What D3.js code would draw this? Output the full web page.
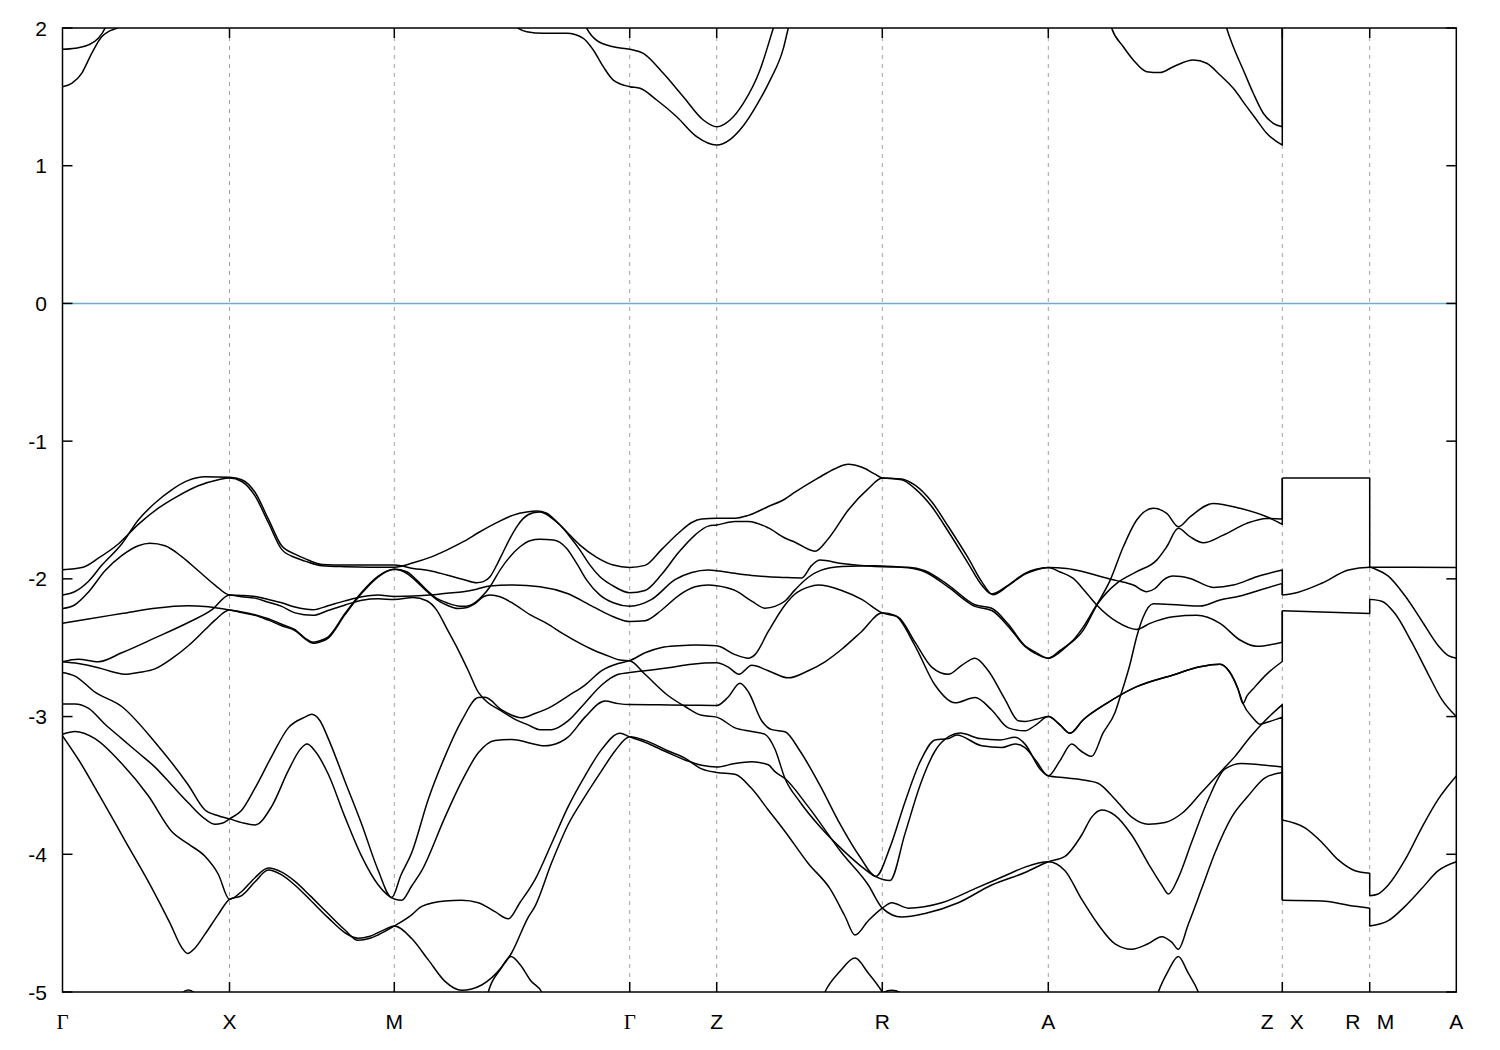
<!DOCTYPE html>
<html><head><meta charset="utf-8">
<script src="https://cdn.jsdelivr.net/npm/d3@7"></script>
<style>body{margin:0;background:#fff} svg{display:block}</style>
</head><body>
<svg id="chart" width="1500" height="1050"></svg>
<script>
// ---------- axis data ----------
const kPoints = [0, 1.670, 3.318, 5.672, 6.542, 8.198, 9.858, 12.198, 13.072, 13.938];
const kLabels = ["Γ","X","M","Γ","Z","R","A","Z X","R M","A"];
const yTicks = [2, 1, 0, -1, -2, -3, -4, -5];
const fermiLevel = 0;
const kBreakZX = 12.198;

// ---------- bands on Γ-X-M-Γ-Z-R-A-Z  ([k, E]) ----------
const bandA = [[0,-2.117],[0.125,-2.092],[0.258,-2.019],[0.392,-1.902],[0.592,-1.747],[0.758,-1.573],[0.925,-1.449],[1.092,-1.353],[1.258,-1.285],[1.425,-1.259],[1.670,-1.262],
[1.792,-1.280],[1.925,-1.371],[2.058,-1.565],[2.192,-1.760],[2.325,-1.82],[2.425,-1.853],[2.595,-1.895],[2.825,-1.90],[3.075,-1.90],[3.318,-1.90],
[3.508,-1.924],[3.675,-1.941],[3.842,-1.972],[4.008,-2.004],[4.142,-2.028],[4.208,-2.02],[4.275,-1.985],[4.342,-1.900],[4.408,-1.803],[4.475,-1.706],[4.542,-1.622],[4.608,-1.561],[4.708,-1.52],[4.775,-1.515],[4.875,-1.549],[4.975,-1.609],[5.075,-1.694],[5.175,-1.791],[5.275,-1.900],[5.375,-1.985],[5.508,-2.052],[5.672,-2.101],
[5.825,-2.084],[5.992,-1.967],[6.158,-1.811],[6.325,-1.682],[6.458,-1.617],[6.542,-1.609],
[6.725,-1.583],[6.858,-1.583],[7.058,-1.630],[7.225,-1.703],[7.325,-1.734],[7.525,-1.799],[7.658,-1.708],[7.858,-1.500],[8.058,-1.345],[8.198,-1.267],
[8.392,-1.280],[8.525,-1.345],[8.692,-1.475],[8.858,-1.656],[9.058,-1.889],[9.192,-2.045],[9.292,-2.110],[9.458,-2.045],[9.625,-1.96],[9.735,-1.93],[9.858,-1.917],
[10.042,-1.924],[10.208,-1.948],[10.408,-1.989],[10.542,-2.013],[10.708,-2.045],[10.842,-2.093],[10.925,-2.07],[11.008,-2.009],[11.108,-1.980],[11.275,-1.997],[11.508,-2.062],[11.708,-2.045],[11.942,-1.985],[12.198,-1.936]];
const bandB = [[0,-1.933],[0.205,-1.915],[0.358,-1.850],[0.558,-1.747],[0.758,-1.604],[0.958,-1.487],[1.158,-1.397],[1.358,-1.324],[1.558,-1.280],[1.670,-1.267],
[1.792,-1.293],[1.925,-1.397],[2.058,-1.591],[2.192,-1.786],[2.325,-1.845],[2.425,-1.871],[2.595,-1.905],[2.825,-1.912],[3.075,-1.915],[3.318,-1.915],
[3.508,-1.883],[3.675,-1.844],[3.842,-1.791],[4.008,-1.730],[4.175,-1.658],[4.342,-1.592],[4.508,-1.537],[4.642,-1.515],[4.742,-1.508],[4.842,-1.524],[4.942,-1.585],[5.042,-1.658],[5.175,-1.755],[5.342,-1.844],[5.508,-1.900],[5.672,-1.917],
[5.825,-1.902],[5.992,-1.786],[6.158,-1.669],[6.292,-1.591],[6.392,-1.565],[6.542,-1.560],
[6.725,-1.560],[6.858,-1.539],[7.058,-1.475],[7.225,-1.42],[7.325,-1.371],[7.558,-1.267],[7.725,-1.20],[7.858,-1.168],[7.995,-1.19],[8.125,-1.24],[8.198,-1.267],
[8.392,-1.275],[8.525,-1.32],[8.692,-1.44],[8.858,-1.62],[9.058,-1.85],[9.192,-2.02],[9.305,-2.115],[9.458,-2.05],[9.625,-1.965],[9.735,-1.935],[9.858,-1.917],
[9.975,-1.95],[10.108,-1.997],[10.225,-2.09],[10.342,-2.19],[10.542,-2.311],[10.742,-2.367],[10.875,-2.323],[11.108,-2.275],[11.342,-2.265],[11.575,-2.323],[11.775,-2.444],[11.942,-2.49],[12.198,-2.46]];
const bandC = [[0,-2.216],[0.125,-2.188],[0.258,-2.097],[0.425,-1.941],[0.592,-1.832],[0.758,-1.760],[0.875,-1.742],[1.025,-1.760],[1.192,-1.838],[1.358,-1.941],[1.525,-2.045],[1.670,-2.117],
[1.792,-2.12],[1.925,-2.128],[2.058,-2.15],[2.192,-2.174],[2.325,-2.205],[2.505,-2.225],[2.655,-2.195],[2.825,-2.16],[2.995,-2.13],[3.155,-2.118],[3.318,-2.128],
[3.508,-2.125],[3.675,-2.118],[3.842,-2.105],[4.008,-2.093],[4.142,-2.075],[4.275,-2.052],[4.508,-2.045],[4.775,-2.057],[5.042,-2.105],[5.308,-2.203],[5.508,-2.275],[5.672,-2.31],
[5.825,-2.304],[5.992,-2.226],[6.158,-2.123],[6.325,-2.058],[6.458,-2.045],[6.542,-2.050],
[6.725,-2.084],[6.892,-2.161],[7.025,-2.213],[7.125,-2.200],[7.225,-2.161],[7.325,-2.08],[7.455,-1.99],[7.575,-1.94],[7.795,-1.91],[8.125,-1.905],[8.198,-1.907],[8.458,-1.92],
[8.625,-1.95],[8.858,-2.06],[9.125,-2.20],[9.292,-2.23],[9.458,-2.345],[9.625,-2.49],[9.725,-2.54],[9.858,-2.576],
[9.975,-2.52],[10.108,-2.444],[10.225,-2.33],[10.342,-2.190],[10.442,-2.10],[10.542,-2.033],[10.742,-1.948],[10.942,-1.864],[11.042,-1.767],[11.158,-1.633],[11.275,-1.694],[11.408,-1.738],[11.608,-1.682],[11.842,-1.597],[12.042,-1.561],[12.198,-1.565]];
const bandD = [[0,-2.322],[0.258,-2.291],[0.592,-2.252],[0.925,-2.213],[1.258,-2.195],[1.425,-2.200],[1.670,-2.226],
[1.792,-2.24],[1.925,-2.26],[2.058,-2.29],[2.192,-2.33],[2.325,-2.369],[2.425,-2.43],[2.508,-2.460],[2.575,-2.45],[2.658,-2.421],[2.825,-2.252],[2.992,-2.097],[3.158,-1.980],[3.318,-1.931],
[3.442,-1.948],[3.542,-2.009],[3.642,-2.081],[3.742,-2.142],[3.842,-2.173],[3.975,-2.198],[4.042,-2.198],[4.125,-2.173],[4.208,-2.118],[4.275,-2.057],[4.375,-1.936],[4.475,-1.839],[4.575,-1.767],[4.675,-1.723],[4.775,-1.713],[4.908,-1.718],[5.042,-1.779],[5.142,-1.888],[5.242,-2.009],[5.375,-2.118],[5.508,-2.173],[5.672,-2.198],
[5.892,-2.149],[6.125,-2.006],[6.292,-1.954],[6.458,-1.936],[6.542,-1.941],
[6.725,-1.96],[6.892,-1.975],[7.058,-1.985],[7.225,-1.99],[7.392,-1.993],[7.492,-1.902],[7.575,-1.863],[7.792,-1.889],[8.125,-1.910],[8.198,-1.912],[8.458,-1.915],
[8.625,-1.941],[8.858,-2.045],[9.125,-2.188],[9.292,-2.213],[9.458,-2.330],[9.625,-2.486],[9.725,-2.53],[9.858,-2.576],
[10.042,-2.49],[10.208,-2.372],[10.342,-2.190],[10.475,-2.013],[10.608,-1.767],[10.742,-1.573],[10.908,-1.488],[11.042,-1.524],[11.158,-1.621],[11.275,-1.55],[11.508,-1.452],[11.775,-1.488],[12.042,-1.549],[12.198,-1.604]];
const bandE = [[0,-2.602],[0.158,-2.584],[0.358,-2.602],[0.592,-2.537],[0.925,-2.429],[1.258,-2.317],[1.492,-2.226],[1.670,-2.117],
[1.792,-2.13],[1.925,-2.14],[2.058,-2.17],[2.192,-2.20],[2.325,-2.247],[2.505,-2.265],[2.655,-2.23],[2.825,-2.19],[2.995,-2.155],[3.155,-2.145],[3.318,-2.15],
[3.505,-2.135],[3.642,-2.159],[3.742,-2.227],[3.842,-2.360],[3.958,-2.517],[4.058,-2.667],[4.158,-2.823],[4.225,-2.88],[4.392,-2.96],[4.525,-3.02],[4.655,-3.06],[4.775,-3.095],[4.892,-3.095],[5.058,-3.030],[5.225,-2.901],[5.392,-2.771],[5.558,-2.693],[5.672,-2.680],
[5.825,-2.667],[6.058,-2.646],[6.292,-2.620],[6.542,-2.610],
[6.658,-2.641],[6.765,-2.693],[6.892,-2.628],[7.058,-2.667],[7.258,-2.719],[7.458,-2.667],[7.625,-2.602],[7.792,-2.511],[7.992,-2.382],[8.198,-2.247],
[8.325,-2.265],[8.525,-2.486],[8.725,-2.771],[8.925,-2.900],[9.125,-2.862],[9.292,-2.952],[9.458,-3.082],[9.625,-3.103],[9.735,-3.06],[9.858,-3.0],
[9.975,-3.06],[10.075,-3.121],[10.205,-3.025],[10.442,-2.904],[10.742,-2.783],[11.105,-2.698],[11.375,-2.638],[11.575,-2.62],[11.675,-2.68],[11.755,-2.80],[11.805,-2.905],[11.845,-2.85],[11.905,-2.80],[12.045,-2.69],[12.198,-2.60]];
const bandF = [[0,-2.602],[0.158,-2.615],[0.358,-2.645],[0.525,-2.68],[0.625,-2.693],[0.758,-2.68],[0.925,-2.654],[1.092,-2.58],[1.258,-2.486],[1.425,-2.37],[1.525,-2.30],[1.670,-2.226],
[1.792,-2.245],[1.925,-2.265],[2.058,-2.30],[2.192,-2.34],[2.325,-2.375],[2.425,-2.435],[2.508,-2.468],[2.575,-2.458],[2.658,-2.43],[2.825,-2.26],[2.992,-2.105],[3.158,-1.985],[3.318,-1.931],
[3.442,-1.96],[3.542,-2.02],[3.642,-2.09],[3.742,-2.15],[3.842,-2.19],[3.955,-2.215],[4.035,-2.21],[4.125,-2.18],[4.208,-2.13],[4.275,-2.118],[4.375,-2.13],[4.508,-2.18],[4.675,-2.26],[4.842,-2.323],[5.008,-2.40],[5.175,-2.469],[5.308,-2.517],[5.475,-2.565],[5.575,-2.59],[5.672,-2.594],
[5.825,-2.693],[6.058,-2.849],[6.225,-2.927],[6.392,-2.991],[6.542,-3.004],
[6.725,-3.082],[6.892,-3.108],[7.025,-3.129],[7.125,-3.237],[7.225,-3.45],[7.375,-3.62],[7.575,-3.80],[7.775,-3.95],[7.975,-4.08],[8.125,-4.16],[8.275,-4.19],
[8.425,-3.85],[8.575,-3.5],[8.725,-3.25],[8.875,-3.14],[8.975,-3.12],[9.175,-3.16],[9.375,-3.17],[9.525,-3.15],[9.625,-3.2],[9.775,-3.38],[9.858,-3.43],
[10.025,-3.445],[10.192,-3.458],[10.355,-3.484],[10.525,-3.600],[10.692,-3.730],[10.858,-3.782],[11.025,-3.769],[11.192,-3.704],[11.392,-3.549],[11.592,-3.393],[11.725,-3.289],[11.875,-3.15],[12.025,-3.03],[12.198,-2.913]];
const bandG = [[0,-3.128],[0.125,-3.108],[0.325,-3.160],[0.592,-3.341],[0.858,-3.575],[1.092,-3.834],[1.258,-3.925],[1.425,-4.015],[1.558,-4.145],[1.670,-4.327],
[1.792,-4.27],[1.925,-4.17],[2.058,-4.10],[2.192,-4.13],[2.325,-4.197],[2.475,-4.30],[2.655,-4.430],[2.825,-4.55],[2.955,-4.625],[3.075,-4.61],[3.155,-4.586],[3.318,-4.521],
[3.492,-4.44],[3.592,-4.378],[3.825,-4.339],[3.992,-4.334],[4.158,-4.352],[4.325,-4.417],[4.458,-4.469],[4.575,-4.35],[4.725,-4.184],[4.892,-3.92],[5.058,-3.652],[5.225,-3.43],[5.392,-3.238],[5.575,-3.121],[5.672,-3.147],
[5.825,-3.186],[6.058,-3.263],[6.225,-3.315],[6.392,-3.354],[6.542,-3.367],
[6.725,-3.34],[6.892,-3.328],[7.058,-3.35],[7.125,-3.40],[7.225,-3.45],[7.455,-3.652],[7.792,-3.989],[8.058,-4.223],[8.198,-4.391],
[8.392,-4.456],[8.625,-4.430],[8.958,-4.352],[9.292,-4.223],[9.625,-4.132],[9.858,-4.054],
[10.025,-4.015],[10.192,-3.860],[10.292,-3.730],[10.392,-3.678],[10.525,-3.717],[10.692,-3.860],[10.858,-4.067],[10.992,-4.223],[11.058,-4.288],[11.158,-4.171],[11.292,-3.911],[11.458,-3.600],[11.625,-3.38],[11.792,-3.34],[11.975,-3.35],[12.198,-3.367]];
const bandH = [[0,-3.14],[0.175,-3.33],[0.375,-3.58],[0.625,-3.90],[0.875,-4.22],[1.075,-4.50],[1.195,-4.68],[1.25,-4.72],[1.325,-4.68],[1.425,-4.58],[1.555,-4.44],[1.670,-4.327],
[1.792,-4.30],[1.925,-4.20],[2.058,-4.115],[2.192,-4.15],[2.325,-4.225],[2.475,-4.33],[2.655,-4.46],[2.825,-4.57],[2.955,-4.61],[3.075,-4.595],[3.225,-4.545],[3.318,-4.521],
[3.492,-4.612],[3.658,-4.767],[3.825,-4.923],[3.992,-4.988],[4.192,-4.949],[4.392,-4.819],[4.492,-4.715],[4.658,-4.456],[4.725,-4.378],[4.892,-4.06],[5.058,-3.782],[5.225,-3.58],[5.392,-3.393],[5.525,-3.25],[5.672,-3.147],
[5.825,-3.173],[6.058,-3.250],[6.225,-3.302],[6.392,-3.380],[6.542,-3.406],
[6.725,-3.419],[6.892,-3.523],[7.058,-3.678],[7.225,-3.834],[7.458,-4.067],[7.675,-4.25],[7.825,-4.45],[7.925,-4.586],[8.058,-4.482],[8.198,-4.391],
[8.292,-4.352],[8.458,-4.391],[8.792,-4.352],[9.125,-4.249],[9.458,-4.145],[9.625,-4.093],[9.858,-4.054],
[10.025,-4.119],[10.192,-4.327],[10.355,-4.508],[10.525,-4.650],[10.692,-4.689],[10.855,-4.650],[10.992,-4.598],[11.092,-4.638],[11.158,-4.689],[11.258,-4.508],[11.392,-4.249],[11.525,-3.989],[11.692,-3.730],[11.858,-3.575],[12.025,-3.445],[12.198,-3.406]];
const bandI = [[0,-2.908],[0.125,-2.908],[0.258,-2.939],[0.425,-3.056],[0.592,-3.160],[0.758,-3.263],[0.925,-3.367],[1.092,-3.497],[1.258,-3.626],[1.425,-3.743],[1.525,-3.782],[1.595,-3.775],[1.670,-3.743],
[1.792,-3.68],[1.925,-3.52],[2.092,-3.289],[2.258,-3.082],[2.425,-3.004],[2.492,-2.984],[2.575,-3.03],[2.658,-3.160],[2.825,-3.471],[2.992,-3.782],[3.158,-4.119],[3.292,-4.314],
[3.385,-4.15],[3.492,-3.989],[3.658,-3.600],[3.825,-3.289],[3.992,-3.030],[4.158,-2.862],[4.225,-2.86],[4.392,-2.952],[4.592,-3.009],[4.725,-2.978],[4.892,-2.926],[5.058,-2.849],[5.225,-2.771],[5.392,-2.667],[5.558,-2.615],[5.672,-2.594],
[5.825,-2.537],[5.992,-2.498],[6.158,-2.486],[6.325,-2.480],[6.542,-2.486],
[6.725,-2.550],[6.858,-2.576],[6.925,-2.550],[7.058,-2.382],[7.225,-2.19],[7.325,-2.11],[7.458,-2.06],[7.558,-2.045],[7.792,-2.084],[7.992,-2.149],[8.198,-2.247],
[8.358,-2.278],[8.525,-2.460],[8.692,-2.641],[8.858,-2.693],[8.992,-2.628],[9.125,-2.576],[9.258,-2.667],[9.425,-2.875],[9.558,-3.030],[9.625,-3.035],[9.735,-3.02],[9.858,-3.0],
[9.975,-3.06],[10.075,-3.121],[10.205,-3.025],[10.442,-2.904],[10.742,-2.783],[11.105,-2.698],[11.375,-2.638],[11.575,-2.62],[11.675,-2.68],[11.755,-2.80],[11.805,-2.905],[11.905,-3.01],[11.975,-3.055],[12.055,-3.04],[12.198,-3.004]];
const bandJ = [[0,-2.680],[0.125,-2.706],[0.325,-2.823],[0.592,-2.927],[0.925,-3.186],[1.258,-3.497],[1.425,-3.678],[1.558,-3.72],[1.670,-3.743],
[1.792,-3.77],[1.925,-3.787],[2.092,-3.652],[2.258,-3.393],[2.375,-3.24],[2.445,-3.20],[2.525,-3.25],[2.658,-3.419],[2.825,-3.730],[2.992,-4.015],[3.158,-4.223],[3.325,-4.327],[3.392,-4.334],
[3.492,-4.23],[3.592,-4.119],[3.825,-3.730],[3.992,-3.471],[4.158,-3.263],[4.325,-3.173],[4.492,-3.167],[4.825,-3.212],[4.892,-3.206],[5.058,-3.147],[5.225,-3.004],[5.425,-2.887],[5.558,-2.906],[5.672,-2.913],
[5.975,-2.915],[6.275,-2.917],[6.542,-2.919],
[6.655,-2.86],[6.775,-2.758],[6.858,-2.82],[6.992,-3.030],[7.092,-3.095],[7.225,-3.11],[7.375,-3.25],[7.575,-3.50],[7.775,-3.78],[7.975,-4.02],[8.135,-4.16],
[8.275,-3.95],[8.425,-3.62],[8.575,-3.33],[8.725,-3.17],[8.858,-3.16],[8.942,-3.134],[9.192,-3.212],[9.392,-3.225],[9.525,-3.199],[9.625,-3.225],[9.735,-3.32],[9.858,-3.43],
[9.975,-3.32],[10.092,-3.20],[10.185,-3.25],[10.292,-3.289],[10.405,-3.12],[10.525,-2.97],[10.575,-2.86],[10.675,-2.62],[10.742,-2.42],[10.805,-2.28],[10.908,-2.18],[11.175,-2.19],[11.375,-2.197],[11.575,-2.154],[11.775,-2.125],[11.975,-2.081],[12.198,-2.033]];
// conduction bands
const bandC1 = [[0,1.845],[0.125,1.853],[0.258,1.877],[0.358,1.925],[0.425,1.998],[0.475,2.1],[0.555,2.3]];
const bandC2 = [[0,1.574],[0.092,1.598],[0.192,1.671],[0.292,1.816],[0.392,1.937],[0.458,1.973],[0.542,1.998],[0.675,2.05],[0.875,2.15]];
const bandC3 = [[4.325,2.2],[4.455,2.06],[4.558,1.998],[4.642,1.973],[4.808,1.961],[5.042,1.961],[5.208,1.925],[5.308,1.840],[5.408,1.719],[5.508,1.622],[5.672,1.574],[5.775,1.562],[5.942,1.477],[6.142,1.356],[6.342,1.211],[6.542,1.150],[6.675,1.19],[6.808,1.29],[6.942,1.44],[7.075,1.62],[7.208,1.85],[7.258,1.998],[7.375,2.25]];
const bandC4 = [[5.125,2.2],[5.195,2.07],[5.242,1.998],[5.342,1.910],[5.508,1.864],[5.672,1.845],[5.808,1.816],[6.008,1.671],[6.208,1.501],[6.408,1.332],[6.542,1.283],[6.675,1.332],[6.808,1.453],[6.975,1.695],[7.108,1.998],[7.175,2.15]];
const bandC5 = [[10.375,2.3],[10.435,2.15],[10.492,1.998],[10.608,1.864],[10.708,1.768],[10.842,1.683],[10.975,1.676],[11.108,1.719],[11.308,1.768],[11.442,1.744],[11.575,1.659],[11.708,1.562],[11.842,1.429],[11.942,1.332],[12.042,1.235],[12.198,1.150]];
const bandC6 = [[11.575,2.2],[11.642,1.998],[11.708,1.864],[11.808,1.695],[11.908,1.526],[12.008,1.381],[12.108,1.308],[12.198,1.283]];
// deep bands just entering the window
const bandL1 = [[1.135,-5.1],[1.195,-5.01],[1.258,-4.985],[1.325,-5.01],[1.385,-5.1]];
const bandL2 = [[4.175,-5.3],[4.258,-5.0],[4.375,-4.84],[4.485,-4.742],[4.575,-4.80],[4.685,-4.92],[4.792,-5.0],[4.875,-5.15]];
const bandL3 = [[7.525,-5.2],[7.625,-5.0],[7.775,-4.85],[7.925,-4.754],[8.055,-4.86],[8.198,-5.0],[8.275,-5.1]];
const bandL4 = [[8.135,-5.1],[8.195,-5.01],[8.292,-4.988],[8.392,-5.01],[8.455,-5.1]];
const bandL5 = [[10.875,-5.2],[10.958,-5.0],[11.055,-4.85],[11.158,-4.742],[11.255,-4.86],[11.358,-5.0],[11.425,-5.15]];

const leftBands = [bandA,bandB,bandC,bandD,bandE,bandF,bandG,bandH,bandI,bandJ,bandC5,bandC6];
// energy at X reached by each of the bands above across the Z|X break
const zToX = [-2.118,-2.232,-1.267,-1.267,-2.232,-3.751,-4.334,-4.334,-3.751,-2.118,2.6,2.6];
const otherBands = [bandC1,bandC2,bandC3,bandC4,bandL1,bandL2,bandL3,bandL4,bandL5];

// ---------- bands on X-R | M-A ----------
const bandX1 = [[12.198,-1.267],[13.072,-1.267],[13.072,-1.915],[13.258,-1.915],[13.938,-1.917]];
const bandX2 = [[12.198,-2.118],[12.358,-2.097],[12.592,-2.032],[12.858,-1.936],[13.072,-1.915],[13.125,-1.928],[13.258,-1.980],[13.425,-2.123],[13.592,-2.304],[13.758,-2.486],[13.858,-2.558],[13.938,-2.576]];
const bandX3 = [[12.198,-2.232],[12.592,-2.24],[13.072,-2.252],[13.072,-2.149],[13.192,-2.162],[13.325,-2.252],[13.492,-2.460],[13.658,-2.693],[13.792,-2.875],[13.938,-2.999]];
const bandX4 = [[12.198,-3.751],[12.425,-3.808],[12.592,-3.912],[12.758,-4.041],[12.925,-4.119],[13.072,-4.137],[13.072,-4.301],[13.15,-4.29],[13.258,-4.223],[13.425,-4.041],[13.592,-3.808],[13.758,-3.600],[13.938,-3.432]];
const bandX5 = [[12.198,-4.334],[12.592,-4.339],[12.925,-4.378],[13.072,-4.391],[13.072,-4.521],[13.258,-4.482],[13.425,-4.378],[13.592,-4.249],[13.758,-4.119],[13.938,-4.054]];
const rightBands = [bandX1,bandX2,bandX3,bandX4,bandX5];

// ---------- drawing ----------
const L = 62.5, R = 1456.3, T = 28, B = 992;
const svg = d3.select("#chart");
const x = d3.scaleLinear().domain([0, kPoints[kPoints.length-1]]).range([L, R]);
const y = d3.scaleLinear().domain([-5, 2]).range([B, T]);

svg.append("rect").attr("width",1500).attr("height",1050).attr("fill","#fff");
svg.append("defs").append("clipPath").attr("id","clip")
  .append("rect").attr("x",L).attr("y",T).attr("width",R-L).attr("height",B-T);

// dashed high-symmetry lines
svg.append("g").selectAll("line").data(kPoints.slice(1,-1)).join("line")
  .attr("x1",d=>x(d)).attr("x2",d=>x(d)).attr("y1",T).attr("y2",B)
  .attr("stroke","#a0a0a0").attr("stroke-width",1).attr("stroke-dasharray","4,5");

// Fermi level
svg.append("line").attr("x1",L).attr("x2",R).attr("y1",y(fermiLevel)).attr("y2",y(fermiLevel))
  .attr("stroke","#56b4e9").attr("stroke-width",1.5);

const seg = d3.line().x(d=>x(d[0])).y(d=>y(d[1])).curve(d3.curveMonotoneX);
function bandPath(pts){
  const runs = []; let cur = [pts[0]];
  for (let i=1;i<pts.length;i++){
    if (pts[i][0] > pts[i-1][0]) cur.push(pts[i]); else { runs.push(cur); cur=[pts[i]]; }
  }
  runs.push(cur);
  return runs.map((r,i)=>{
    const s = r.length>1 ? seg(r) : `M${x(r[0][0])},${y(r[0][1])}`;
    return i ? "L" + s.slice(1) : s;
  }).join("");
}
const allBands = leftBands.map((b,i)=>b.concat([[kBreakZX, zToX[i]]]))
  .concat(rightBands).concat(otherBands);

svg.append("g").attr("clip-path","url(#clip)").selectAll("path").data(allBands).join("path")
  .attr("d", bandPath).attr("fill","none").attr("stroke","#000")
  .attr("stroke-width",1.5).attr("stroke-linejoin","round");

// frame
svg.append("rect").attr("x",L).attr("y",T).attr("width",R-L).attr("height",B-T)
  .attr("fill","none").attr("stroke","#000").attr("stroke-width",1.5);

// ticks
const tk = svg.append("g").attr("stroke","#000").attr("stroke-width",1.5);
yTicks.forEach(v=>{
  tk.append("line").attr("x1",L).attr("x2",L+10).attr("y1",y(v)).attr("y2",y(v));
  tk.append("line").attr("x1",R-10).attr("x2",R).attr("y1",y(v)).attr("y2",y(v));
});
kPoints.slice(1,-1).forEach(k=>{
  tk.append("line").attr("x1",x(k)).attr("x2",x(k)).attr("y1",T).attr("y2",T+10);
  tk.append("line").attr("x1",x(k)).attr("x2",x(k)).attr("y1",B-10).attr("y2",B);
});

// labels
svg.append("g").selectAll("text").data(yTicks).join("text")
  .attr("x",47).attr("y",d=>y(d)).attr("dy","0.36em").attr("text-anchor","end")
  .attr("font-family","Liberation Sans, Arial, sans-serif").attr("font-size",21)
  .text(d=>d);
svg.append("g").selectAll("text").data(kPoints).join("text")
  .attr("x",d=>x(d)).attr("y",1029).attr("text-anchor","middle")
  .attr("font-family",(d,i)=>kLabels[i]==="Γ" ? "Liberation Serif, serif" : "Liberation Sans, Arial, sans-serif")
  .attr("font-size",21).style("white-space","pre")
  .text((d,i)=>kLabels[i].replace(" ","\u2002 "));
</script>
</body></html>
